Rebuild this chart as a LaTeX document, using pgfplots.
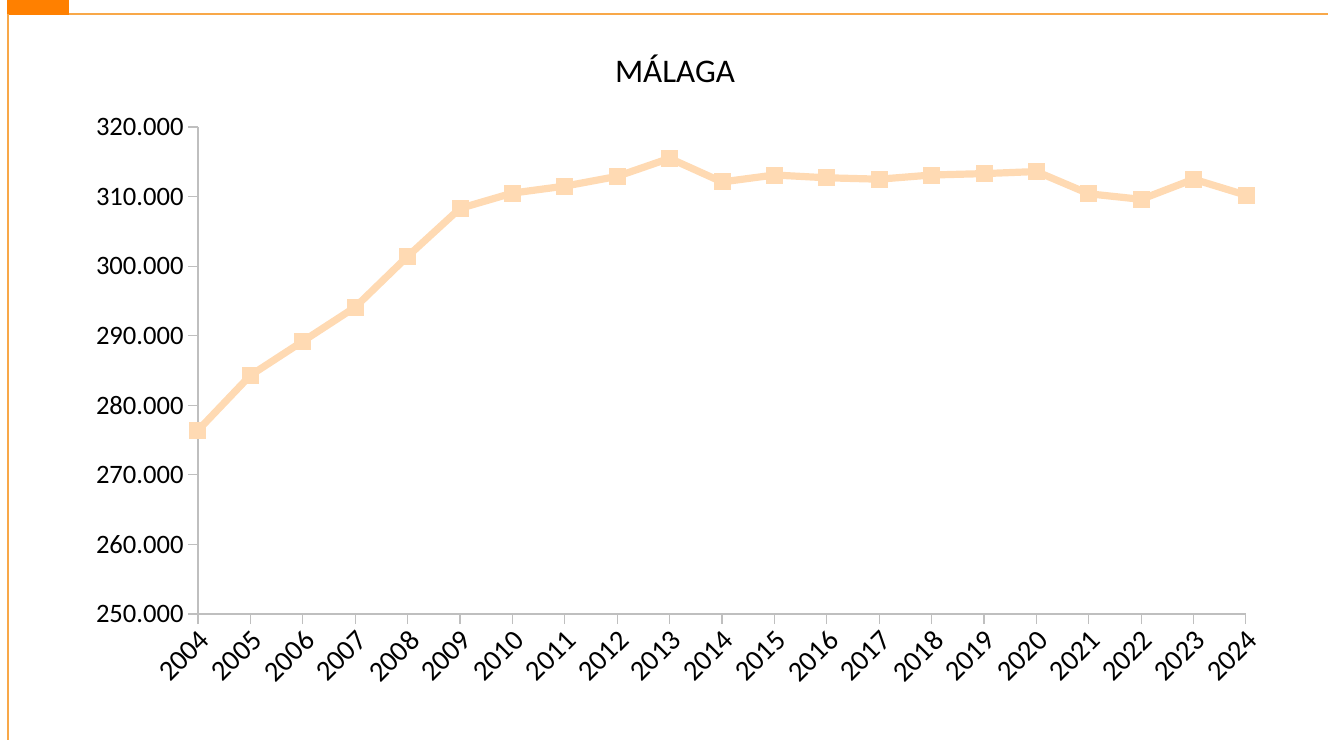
\documentclass[border=0pt]{standalone}
\usepackage{fontspec}
\setmainfont{Carlito}
\usepackage{pgfplots}
\pgfplotsset{compat=1.18}
\definecolor{lineor}{HTML}{FFDAB3}
\definecolor{frameor}{HTML}{F8A849}
\definecolor{blockor}{HTML}{FF8000}
\definecolor{axgray}{HTML}{BFBFBF}
\begin{document}
\begin{tikzpicture}[x=1pt,y=1pt]
\useasboundingbox (0,0) rectangle (664,370);
\fill[blockor] (3.5,362.5) rectangle (34.5,370);
\draw[frameor, line width=1pt] (34.5,363) -- (664,363);
\draw[frameor, line width=1pt] (4,363) -- (4,0);
\node[font=\fontsize{16.5}{18}\selectfont] at (337.5,335.5) {MÁLAGA};
\begin{axis}[
  at={(99pt,63pt)}, anchor=south west,
  scale only axis, width=524pt, height=243.5pt,
  xmin=2004, xmax=2024, ymin=250000, ymax=320000,
  axis lines=left,
  axis line style={axgray, line width=0.6pt, -},
  xtick={2004,...,2024},
  ytick={250000,260000,...,320000},
  tick style={axgray, line width=0.6pt},
  major tick length=5pt,
  tick align=outside,
  scaled y ticks=false,
  /pgf/number format/assume math mode=true,
  xticklabel style={/pgf/number format/1000 sep={}, rotate=45, anchor=north east, font=\fontsize{14.3}{16}\selectfont, inner sep=1.5pt},
  yticklabel style={/pgf/number format/.cd, fixed, 1000 sep={.}, /tikz/.cd, font=\fontsize{13.3}{15}\selectfont, inner sep=2pt},
  clip=false,
]
\addplot[lineor, line width=3.6pt, mark=square*, mark size=4pt, mark options={fill=lineor, draw=lineor, line width=0pt}] coordinates {
(2004,276400) (2005,284300) (2006,289200) (2007,294100) (2008,301400)
(2009,308300) (2010,310500) (2011,311500) (2012,312900) (2013,315500)
(2014,312100) (2015,313100) (2016,312700) (2017,312500) (2018,313100)
(2019,313300) (2020,313600) (2021,310400) (2022,309600) (2023,312500)
(2024,310200)
};
\end{axis}
\end{tikzpicture}
\end{document}
